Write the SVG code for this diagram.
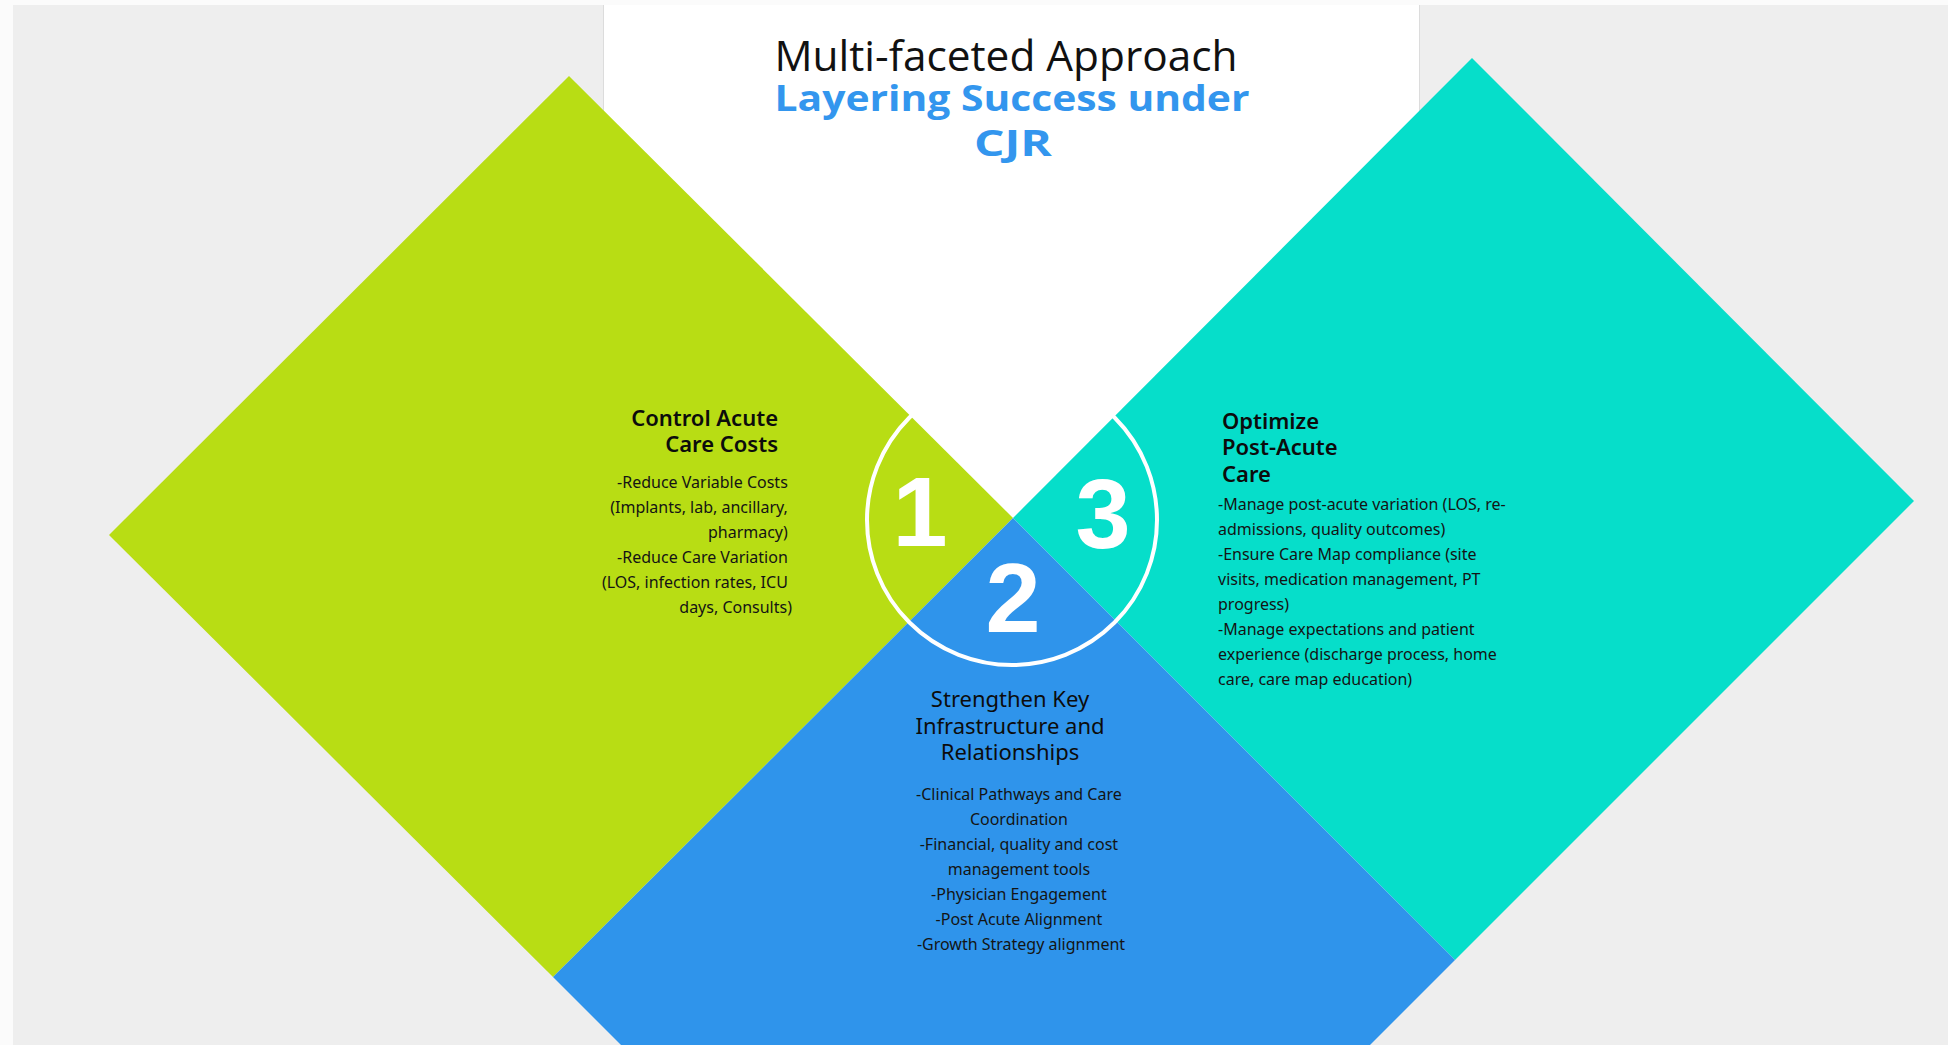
<svg xmlns="http://www.w3.org/2000/svg" width="1948" height="1045" viewBox="0 0 1948 1045">
<style>
.body{font-family:"Noto Sans","Open Sans","Liberation Sans",sans-serif;font-size:16px;fill:#141414}
.head{font-family:"Noto Sans","Open Sans","Liberation Sans",sans-serif;font-size:22px;fill:#0c0c0c}
.num{font-family:"Liberation Sans",Roboto,Arial,sans-serif;font-weight:700;font-size:99px;fill:#ffffff;text-anchor:middle}
</style>
<rect x="0" y="0" width="1948" height="1045" fill="#fbfbfb"/>
<rect x="13" y="5" width="1935" height="1040" fill="#eeeeee"/>
<g id="panel">
<rect x="603" y="5" width="817" height="900" fill="#ffffff"/>
<line x1="603.5" y1="5" x2="603.5" y2="905" stroke="#dcdcdc" stroke-width="1"/>
<line x1="1419.5" y1="5" x2="1419.5" y2="905" stroke="#dcdcdc" stroke-width="1"/>
</g>
<g id="title">
<text x="1006" y="71" font-family="'Open Sans','Noto Sans',sans-serif" font-size="42" fill="#111" text-anchor="middle" textLength="463" lengthAdjust="spacingAndGlyphs">Multi-faceted Approach</text>
<text x="1012" y="111" font-family="'Open Sans','Noto Sans',sans-serif" font-weight="700" font-size="35" fill="#3396ee" text-anchor="middle" textLength="475" lengthAdjust="spacingAndGlyphs">Layering Success under</text>
<text x="1013" y="156" font-family="'Open Sans','Noto Sans',sans-serif" font-weight="700" font-size="35" fill="#3396ee" text-anchor="middle" textLength="78" lengthAdjust="spacingAndGlyphs">CJR</text>
</g>
<g id="node-1-green">
<polygon points="569,76 1013,518 553,977 109,535" fill="#b8dd14"/>
<text class="head" font-weight="600" text-anchor="end"><tspan x="778" y="426">Control Acute</tspan><tspan x="778" y="452">Care Costs</tspan></text>
<text class="body" text-anchor="end">
<tspan x="792" y="488">-Reduce Variable Costs</tspan>
<tspan x="792" y="513">(Implants, lab, ancillary,</tspan>
<tspan x="792" y="538">pharmacy)</tspan>
<tspan x="792" y="563">-Reduce Care Variation</tspan>
<tspan x="792" y="588">(LOS, infection rates, ICU</tspan>
<tspan x="792" y="613">days, Consults)</tspan>
</text>
</g>
<g id="node-3-cyan">
<polygon points="1472,58 1914,501 1455,960 1013,518" fill="#06deca"/>
<text class="head" font-weight="600"><tspan x="1222" y="429">Optimize</tspan><tspan x="1222" y="455">Post-Acute</tspan><tspan x="1222" y="482">Care</tspan></text>
<text class="body">
<tspan x="1218" y="510">-Manage post-acute variation (LOS, re-</tspan>
<tspan x="1218" y="535">admissions, quality outcomes)</tspan>
<tspan x="1218" y="560">-Ensure Care Map compliance (site</tspan>
<tspan x="1218" y="585">visits, medication management, PT</tspan>
<tspan x="1218" y="610">progress)</tspan>
<tspan x="1218" y="635">-Manage expectations and patient</tspan>
<tspan x="1218" y="660">experience (discharge process, home</tspan>
<tspan x="1218" y="685">care, care map education)</tspan>
</text>
</g>
<g id="node-2-blue">
<polygon points="1013,518 1455,960 1370,1045 621,1045 553,977" fill="#2f94eb"/>
<text class="head" text-anchor="middle"><tspan x="1010" y="707">Strengthen Key</tspan><tspan x="1010" y="734">Infrastructure and</tspan><tspan x="1010" y="760">Relationships</tspan></text>
<text class="body" text-anchor="middle">
<tspan x="1021" y="800">-Clinical Pathways and Care</tspan>
<tspan x="1021" y="825">Coordination</tspan>
<tspan x="1021" y="850">-Financial, quality and cost</tspan>
<tspan x="1021" y="875">management tools</tspan>
<tspan x="1021" y="900">-Physician Engagement</tspan>
<tspan x="1021" y="925">-Post Acute Alignment</tspan>
<tspan x="1021" y="950">-Growth Strategy alignment</tspan>
</text>
</g>
<g id="node-circle">
<circle cx="1012" cy="520" r="145" fill="none" stroke="#ffffff" stroke-width="4"/>
<text class="num" x="920" y="546">1</text>
<text class="num" x="1013" y="632">2</text>
<text class="num" x="1103" y="548">3</text>
</g>
<g id="connectors"/>
</svg>
